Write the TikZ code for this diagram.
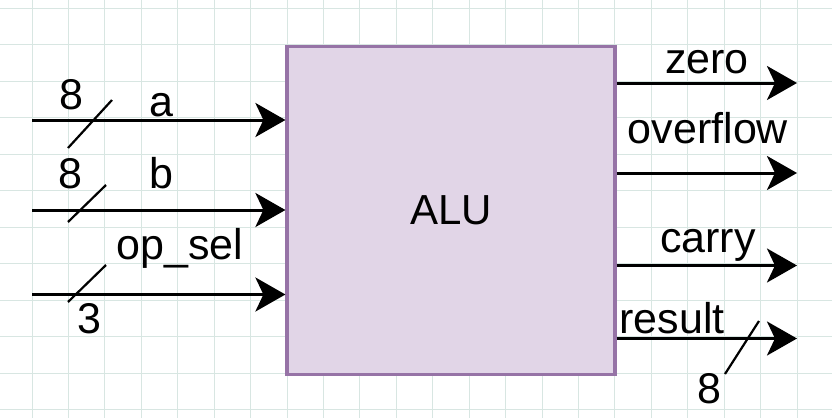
\documentclass[tikz,border=0pt]{standalone}
\usepackage{fontspec}
\setmainfont{Liberation Sans}
\usetikzlibrary{arrows.meta}
\definecolor{gridc}{HTML}{D8E6E2}
\definecolor{alufill}{HTML}{E1D5E7}
\definecolor{aluline}{HTML}{9673A6}
\begin{document}
\begin{tikzpicture}[x=0.5pt,y=-0.5pt,
  lbl/.style={font=\fontsize{21.5}{25}\selectfont, inner sep=0pt, anchor=base},
  sig/.style={line width=1.5pt, -{Stealth[length=15pt,width=17pt,inset=4pt]}},
  bus/.style={line width=1.1pt},
  gridline/.style={gridc, line width=0.5pt},
  block/.style={draw=aluline, fill=alufill, line width=1.6pt, minimum width=164pt, minimum height=164pt, inner sep=0pt, font=\fontsize{21}{25}\selectfont}]
\fill[white] (0,0) rectangle (832,418);
\useasboundingbox (0,0) rectangle (832,418);
% grid
\foreach \i in {0,...,22} \draw[gridline] ({32+36.43*(\i-1)},0) -- ++(0,418);
\foreach \j in {0,...,11} \draw[gridline] (0,{8.3+36.5*\j}) -- ++(832,0);
% block
\node[block] (alu) at (451,210.5) {ALU};
% inputs
\coordinate (ain) at (32,120);
\coordinate (bin) at (32,210);
\coordinate (oin) at (32,294.5);
\draw[sig] (ain) -- (ain -| alu.west);
\draw[sig] (bin) -- (bin -| alu.west);
\draw[sig] (oin) -- (oin -| alu.west);
\draw[bus] (68,148) -- (112,100);
\draw[bus] (68,222) -- (106,185);
\draw[bus] (68,302) -- (106,265);
\node[lbl] (wa) at (71,109) {8};
\node[lbl] (la) at (161,116) {a};
\node[lbl] (wb) at (70,188) {8};
\node[lbl] (lb) at (161,188) {b};
\node[lbl] (lo) at (180,259) {op\_sel};
\node[lbl] (wo) at (89,333) {3};
% outputs
\coordinate (zout) at (797,83);
\coordinate (vout) at (797,173);
\coordinate (cout) at (797,265.5);
\coordinate (rout) at (797,338.5);
\draw[sig] (alu.east |- zout) -- (zout);
\draw[sig] (alu.east |- vout) -- (vout);
\draw[sig] (alu.east |- cout) -- (cout);
\draw[sig] (alu.east |- rout) -- (rout);
\draw[bus] (725,374) -- (759,321);
\node[lbl] (lz) at (707,73) {zero};
\node[lbl] (lv) at (708,143) {overflow};
\node[lbl] (lc) at (708,252) {carry};
\node[lbl] (lr) at (672,333) {result};
\node[lbl] (wr) at (709,403) {8};
\end{tikzpicture}
\end{document}
